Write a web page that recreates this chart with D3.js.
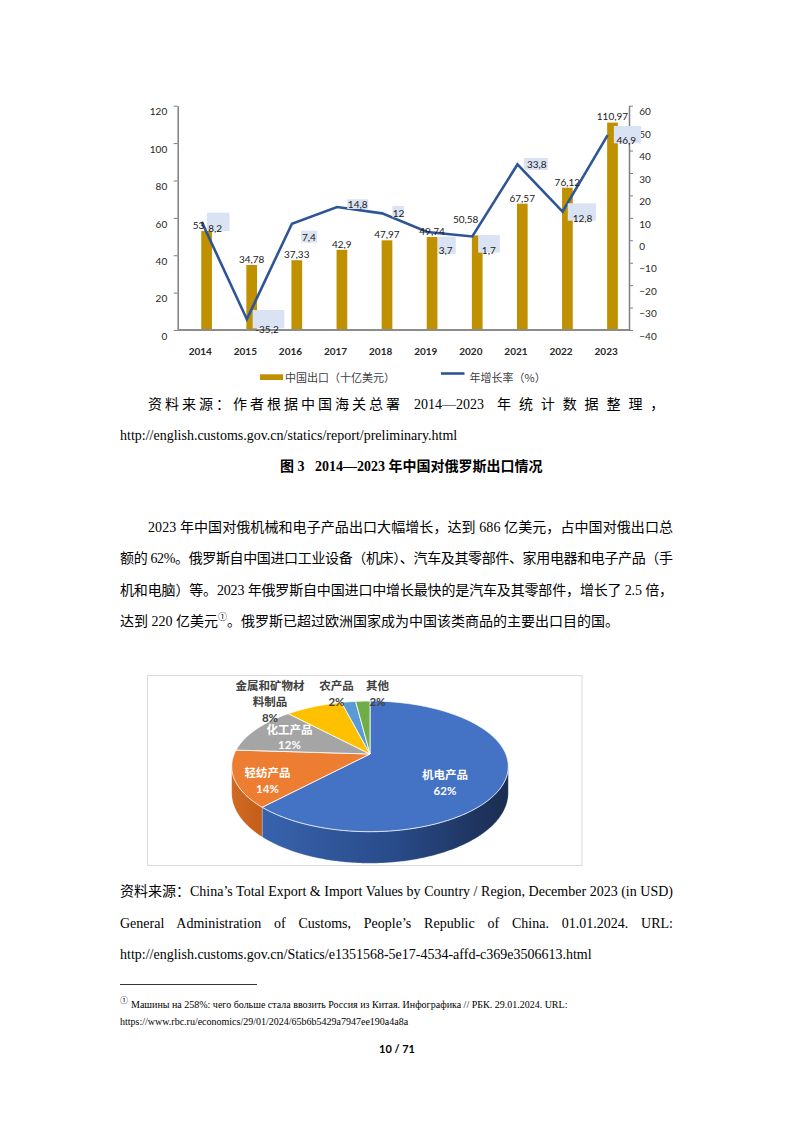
<!DOCTYPE html>
<html><head><meta charset="utf-8">
<script src="https://cdn.jsdelivr.net/npm/d3@7"></script>
<style>body{margin:0;background:#fff}svg{display:block}</style>
</head><body>
<svg id="page" width="794" height="1123"></svg>
<script>
// ---------- data ----------
const years = ["2014","2015","2016","2017","2018","2019","2020","2021","2022","2023"];
const exportValues = [53, 34.78, 37.33, 42.9, 47.97, 49.74, 50.58, 67.57, 76.12, 110.97];
const growthRates = [8.2, -35.2, 7.4, 14.8, 12, 3.7, 1.7, 33.8, 12.8, 46.9];
const leftTicks = [0, 20, 40, 60, 80, 100, 120];
const rightTicks = [-40, -30, -20, -10, 0, 10, 20, 30, 40, 50, 60];
const seriesNames = ["中国出口（十亿美元）", "年增长率（%）"];

const pieCategories = ["机电产品", "轻纺产品", "化工产品", "金属和矿物材料制品", "农产品", "其他"];
const pieShares = [62, 14, 12, 8, 2, 2];
const pieColors = ["#4472c4", "#ed7d31", "#a5a5a5", "#ffc000", "#5b9bd5", "#70ad47"];

// ---------- layout helpers (offsets only) ----------
const barLabelShift = [[-8,0],[0,0],[0,0],[0,0],[0,0],[0,0],[-11.5,-10.5],[0,0],[0,0],[0,0]];
// [boxDx, boxDy, boxW, boxH, textDx, textDyCenter]
const rateLabelLayout = [
  [6.7,-9.2,22.6,18.3,8,6.4],
  [7.3,-9.2,31.7,18.3,10,9.8],
  [10.7,7,16,12,11.5,14],
  [11.7,-7.8,21,9.7,12.3,-2.8],
  [11.7,-7.4,11.6,11.3,12,-0.1],
  [12.3,4.7,17.7,17.3,13,18.7],
  [7.3,-1.5,21.7,17.7,11,13.5],
  [8,-6.5,24,12,11,-0.5],
  [6.7,-8.3,28.3,17.4,11.7,6.4],
  [7.7,-9.1,27.3,17.3,10.3,5.6]
];
const pieLabelPos = [
  {x:445, y:[778.5, 794.5], fill:"#fff"},
  {x:267.5, y:[776.5, 793], fill:"#fff"},
  {x:289.5, y:[733.5, 749], fill:"#fff"},
  {x:270, y:[689.5, 705.5, 722], fill:"#404040", lines:["金属和矿物材","料制品"]},
  {x:336.5, y:[689.5, 706], fill:"#404040"},
  {x:377.5, y:[689.5, 706], fill:"#404040"}
];

const svg = d3.select("#page");
svg.append("rect").attr("width",794).attr("height",1123).attr("fill","#fff");

const fmt = v => String(v).replace(".", ",");
const CH = "Lato, 'Noto Sans CJK SC', sans-serif";

// ---------- combo chart ----------
const x = d3.scaleBand().domain(years).range([177.7, 628.7]);
const yL = d3.scaleLinear().domain([0,120]).range([330,105.7]);
const yR = d3.scaleLinear().domain([-40,60]).range([330,105.7]);
const cxOf = yr => x(yr) + x.bandwidth()/2;

const gc = svg.append("g");

gc.selectAll("rect.bar").data(exportValues).join("rect")
  .attr("x", (d,i) => cxOf(years[i]) + 1)
  .attr("width", 10.7)
  .attr("y", d => yL(d))
  .attr("height", d => yL(0) - yL(d))
  .attr("fill", "#bf9000");

const axL = gc.append("g").attr("transform","translate(177.7,0)")
  .call(d3.axisLeft(yL).tickValues(leftTicks).tickSize(4).tickSizeOuter(0).tickPadding(6.5).tickFormat(d3.format("d")));
const axR = gc.append("g").attr("transform","translate(629,0)")
  .call(d3.axisRight(yR).tickValues(rightTicks).tickSize(4).tickSizeOuter(0).tickPadding(6.3).tickFormat(d3.format("d")));
[axL, axR].forEach(a => {
  a.select(".domain").attr("stroke","#7f7f7f").attr("stroke-width",1.5);
  a.selectAll(".tick line").attr("stroke","#7f7f7f").attr("stroke-width",1);
  a.selectAll(".tick text").attr("transform","translate(0,6)")
    .attr("font-family", CH).attr("font-size", 10).attr("fill","#262626");
});
gc.append("line").attr("x1",177.7).attr("x2",629).attr("y1",yL(0)).attr("y2",yL(0))
  .attr("stroke","#8c8c8c").attr("stroke-width",2);

const line = d3.line().x((d,i) => cxOf(years[i]) + 1.5).y(d => yR(d));
gc.append("path").datum(growthRates).attr("d", line)
  .attr("fill","none").attr("stroke","#2f5597").attr("stroke-width",2.6).attr("stroke-linejoin","miter");

gc.selectAll("text.bl").data(exportValues).join("text")
  .attr("x", (d,i) => cxOf(years[i]) + 6.3 + barLabelShift[i][0])
  .attr("y", (d,i) => yL(d) - 2.2 + barLabelShift[i][1])
  .attr("text-anchor","middle").attr("font-family",CH).attr("font-size",10).attr("fill","#1a1a1a")
  .text(d => fmt(d));

growthRates.forEach((v,i) => {
  const px = cxOf(years[i]), py = yR(v), L = rateLabelLayout[i];
  gc.append("rect").attr("x", px + L[0]).attr("y", py + L[1]).attr("width", L[2]).attr("height", L[3])
    .attr("fill","#dae3f3");
  gc.append("text").attr("x", px + L[4]).attr("y", py + L[5] + 3.6)
    .attr("font-family",CH).attr("font-size",10).attr("fill","#1a1a1a").text(fmt(v));
});

gc.selectAll("text.yr").data(years).join("text")
  .attr("x", d => cxOf(d)).attr("y", 355)
  .attr("text-anchor","middle").attr("font-family",CH).attr("font-size",10).attr("font-weight","bold")
  .attr("fill","#262626").text(d => d);

gc.append("rect").attr("x",260).attr("y",374.3).attr("width",23).attr("height",5.7).attr("fill","#bf9000");
gc.append("text").attr("x",285).attr("y",381.5).attr("font-family","'Noto Sans CJK SC'").attr("font-size",11)
  .attr("fill","#404040").text(seriesNames[0]);
gc.append("line").attr("x1",441).attr("x2",464.5).attr("y1",373.5).attr("y2",373.5)
  .attr("stroke","#2f5597").attr("stroke-width",2.6);
gc.append("text").attr("x",469.5).attr("y",381.5).attr("font-family","'Noto Sans CJK SC'").attr("font-size",11)
  .attr("fill","#404040").text(seriesNames[1]);

// ---------- body text ----------
const SERIF = "'Liberation Serif', 'Noto Sans CJK SC', serif";
function txt(s, x, y, opts = {}) {
  const t = svg.append("text").attr("x", x).attr("y", y)
    .attr("font-family", opts.family || SERIF).attr("font-size", opts.size || 14)
    .attr("fill", opts.fill || "#000").text(s);
  if (opts.weight) t.attr("font-weight", opts.weight);
  if (opts.anchor) t.attr("text-anchor", opts.anchor);
  if (opts.ls) t.attr("letter-spacing", opts.ls);
  if (opts.len) t.attr("textLength", opts.len).attr("lengthAdjust", "spacing");
  if (opts.wordJustify) {
    const nat = t.node().getComputedTextLength();
    const spaces = (s.match(/ /g) || []).length;
    if (spaces > 0) t.attr("word-spacing", (opts.wordJustify - nat) / spaces);
  }
  return t;
}
txt("资料来源：作者根据中国海关总署", 148, 409, {ls: 3.0});
txt("2014—2023", 414, 409);
txt("年统计数据整理，", 497, 409, {ls: 7.9});
txt("http://english.customs.gov.cn/statics/report/preliminary.html", 120, 440);
txt("图 3", 280, 471, {weight: "bold"});
txt("2014—2023 年中国对俄罗斯出口情况", 315, 471, {weight: "bold"});

txt("2023 年中国对俄机械和电子产品出口大幅增长，达到 686 亿美元，占中国对俄出口总", 148, 532, {len: 525});
txt("额的 62%。俄罗斯自中国进口工业设备（机床）、汽车及其零部件、家用电器和电子产品（手", 120, 563, {len: 553});
txt("机和电脑）等。2023 年俄罗斯自中国进口中增长最快的是汽车及其零部件，增长了 2.5 倍，", 120, 594.5, {len: 553});
const l4 = txt("", 120, 626);
l4.append("tspan").text("达到 220 亿美元");
l4.append("tspan").attr("font-size", 9).attr("dy", -6).text("①");
l4.append("tspan").attr("dy", 6).text("。俄罗斯已超过欧洲国家成为中国该类商品的主要出口目的国。");

// ---------- pie ----------
svg.append("rect").attr("x",147.5).attr("y",675.5).attr("width",434.5).attr("height",190)
  .attr("fill","#fff").attr("stroke","#d9d9d9").attr("stroke-width",1);

const PIE = {cx:370, cy:754, R:135.8, A:63.0, k:0.189, H:25.6};
function P(th, d) {
  const s = 1 / (1 + PIE.k * Math.cos(th));
  return [PIE.cx + PIE.R * Math.sin(th) * s, PIE.cy - PIE.A * Math.cos(th) * s + d * s];
}
const arcs = d3.pie().sort(null).value(d => d)(pieShares);
const defs = svg.append("defs");
const g1 = defs.append("linearGradient").attr("id","sideBlue").attr("gradientUnits","userSpaceOnUse")
  .attr("x1",262).attr("x2",510).attr("y1",0).attr("y2",0);
g1.append("stop").attr("offset",0).attr("stop-color","#3863ad");
g1.append("stop").attr("offset",0.55).attr("stop-color","#284a88");
g1.append("stop").attr("offset",1).attr("stop-color","#1b2c4f");
const g2 = defs.append("linearGradient").attr("id","sideOrange").attr("gradientUnits","userSpaceOnUse")
  .attr("x1",230).attr("x2",268).attr("y1",0).attr("y2",0);
g2.append("stop").attr("offset",0).attr("stop-color","#d26a23");
g2.append("stop").attr("offset",1).attr("stop-color","#c05c19");
const sideFill = ["url(#sideBlue)", "url(#sideOrange)", "#7c7c7c", "#bf9000", "#41719c", "#507e32"];

const thL = Math.acos(-PIE.k), thR = 2*Math.PI - thL;
const gp = svg.append("g");
arcs.forEach((a,i) => {
  const lo = Math.max(a.startAngle, thL), hi = Math.min(a.endAngle, thR);
  if (lo >= hi) return;
  const pts = [];
  const n = Math.max(2, Math.ceil((hi - lo) / 0.01));
  for (let j = 0; j <= n; j++) pts.push(P(lo + (hi - lo) * j / n, 0));
  for (let j = n; j >= 0; j--) pts.push(P(lo + (hi - lo) * j / n, PIE.H));
  gp.append("path").attr("d", "M" + pts.map(p => p.join(",")).join("L") + "Z")
    .attr("fill", sideFill[i]).attr("stroke", "#ffffff").attr("stroke-opacity", 0.35).attr("stroke-width", 0.6);
});
arcs.forEach((a,i) => {
  const pts = [[PIE.cx, PIE.cy]];
  const n = Math.max(2, Math.ceil((a.endAngle - a.startAngle) / 0.01));
  for (let j = 0; j <= n; j++) pts.push(P(a.startAngle + (a.endAngle - a.startAngle) * j / n, 0));
  gp.append("path").attr("d", "M" + pts.map(p => p.join(",")).join("L") + "Z")
    .attr("fill", pieColors[i]).attr("stroke", "#ffffff").attr("stroke-width", 0.8).attr("stroke-linejoin","round");
});

pieCategories.forEach((c,i) => {
  const L = pieLabelPos[i];
  const lines = (L.lines || [c]).concat([pieShares[i] + "%"]);
  lines.forEach((s,j) => {
    gp.append("text").attr("x", L.x).attr("y", L.y[j]).attr("text-anchor","middle")
      .attr("font-family", CH).attr("font-size", 11.5).attr("font-weight","bold")
      .attr("fill", L.fill).text(s);
  });
});

// ---------- source & footnotes ----------
txt("资料来源：China’s Total Export & Import Values by Country / Region, December 2023 (in USD)", 120, 896, {wordJustify: 553});
txt("General Administration of Customs, People’s Republic of China. 01.01.2024. URL:", 120, 928, {wordJustify: 553});
txt("http://english.customs.gov.cn/Statics/e1351568-5e17-4534-affd-c369e3506613.html", 120, 959);

svg.append("line").attr("x1",120).attr("x2",257).attr("y1",984.5).attr("y2",984.5)
  .attr("stroke","#000").attr("stroke-width",0.8);
txt("①", 120, 1003, {size: 8});
txt("Машины на 258%: чего больше стала ввозить Россия из Китая. Инфографика // РБК. 29.01.2024. URL:", 131, 1007.5, {size: 10});
txt("https://www.rbc.ru/economics/29/01/2024/65b6b5429a7947ee190a4a8a", 120, 1025, {size: 10});
txt("10 / 71", 397, 1053, {family: "Lato, sans-serif", size: 11, weight: "bold", anchor: "middle"});
</script>
</body></html>
